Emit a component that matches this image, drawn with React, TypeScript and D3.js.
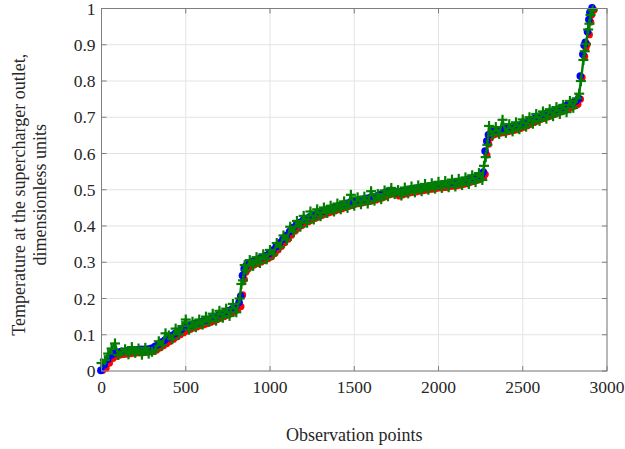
import * as d3 from 'd3';

// observation index of each sample
const obs = [
  0, 20, 40, 60, 80, 100, 120, 140, 160, 180,
  200, 220, 240, 260, 280, 300, 320, 340, 360, 380,
  400, 420, 440, 460, 480, 500, 520, 540, 560, 580,
  600, 620, 640, 660, 680, 700, 720, 740, 760, 780,
  800, 820, 830, 840, 850, 860, 880, 900, 920, 940,
  960, 980, 1000, 1020, 1040, 1060, 1080, 1100, 1120, 1140,
  1160, 1180, 1200, 1220, 1240, 1260, 1280, 1300, 1320, 1340,
  1360, 1380, 1400, 1420, 1440, 1460, 1480, 1500, 1520, 1540,
  1560, 1580, 1600, 1620, 1640, 1660, 1680, 1700, 1720, 1740,
  1760, 1780, 1800, 1820, 1840, 1860, 1880, 1900, 1920, 1940,
  1960, 1980, 2000, 2020, 2040, 2060, 2080, 2100, 2120, 2140,
  2160, 2180, 2200, 2220, 2240, 2260, 2270, 2280, 2290, 2300,
  2320, 2340, 2360, 2380, 2400, 2420, 2440, 2460, 2480, 2500,
  2520, 2540, 2560, 2580, 2600, 2620, 2640, 2660, 2680, 2700,
  2720, 2740, 2760, 2780, 2800, 2820, 2835, 2845, 2860, 2868,
  2875, 2888, 2896, 2902, 2915,
];

// blue circles
const actual = [
  0, 0.015, 0.030, 0.042, 0.048, 0.050, 0.052, 0.053, 0.054, 0.055,
  0.056, 0.057, 0.058, 0.058, 0.059, 0.061, 0.066, 0.072, 0.078, 0.084,
  0.090, 0.096, 0.102, 0.108, 0.114, 0.119, 0.123, 0.126, 0.129, 0.132,
  0.135, 0.138, 0.141, 0.145, 0.149, 0.153, 0.157, 0.161, 0.165, 0.170,
  0.176, 0.188, 0.205, 0.262, 0.280, 0.288, 0.295, 0.300, 0.304, 0.308,
  0.312, 0.317, 0.323, 0.332, 0.342, 0.352, 0.362, 0.372, 0.383, 0.394,
  0.402, 0.408, 0.414, 0.419, 0.424, 0.428, 0.432, 0.436, 0.440, 0.443,
  0.446, 0.449, 0.452, 0.455, 0.458, 0.461, 0.464, 0.467, 0.469, 0.471,
  0.473, 0.475, 0.477, 0.479, 0.482, 0.485, 0.489, 0.493, 0.496, 0.494,
  0.490, 0.493, 0.496, 0.498, 0.500, 0.501, 0.503, 0.505, 0.506, 0.508,
  0.509, 0.511, 0.512, 0.513, 0.514, 0.516, 0.517, 0.518, 0.520, 0.522,
  0.524, 0.527, 0.530, 0.533, 0.536, 0.541, 0.547, 0.605, 0.633, 0.650,
  0.658, 0.661, 0.663, 0.665, 0.667, 0.669, 0.671, 0.673, 0.676, 0.680,
  0.684, 0.688, 0.693, 0.697, 0.701, 0.704, 0.708, 0.711, 0.715, 0.719,
  0.722, 0.726, 0.730, 0.734, 0.738, 0.743, 0.750, 0.812, 0.872, 0.897,
  0.905, 0.934, 0.968, 0.988, 1.000,
];

// red circles
const model1 = [
  0.004, 0.010, 0.024, 0.037, 0.043, 0.046, 0.048, 0.049, 0.050, 0.051,
  0.052, 0.052, 0.053, 0.054, 0.055, 0.056, 0.060, 0.066, 0.072, 0.078,
  0.084, 0.090, 0.096, 0.102, 0.108, 0.113, 0.117, 0.121, 0.124, 0.127,
  0.130, 0.133, 0.136, 0.140, 0.144, 0.148, 0.152, 0.156, 0.160, 0.165,
  0.171, 0.180, 0.212, 0.255, 0.275, 0.283, 0.290, 0.295, 0.299, 0.303,
  0.307, 0.312, 0.317, 0.326, 0.336, 0.346, 0.356, 0.366, 0.377, 0.388,
  0.397, 0.403, 0.409, 0.414, 0.419, 0.423, 0.427, 0.431, 0.435, 0.438,
  0.441, 0.444, 0.447, 0.450, 0.453, 0.456, 0.459, 0.462, 0.464, 0.466,
  0.468, 0.470, 0.472, 0.474, 0.477, 0.480, 0.484, 0.488, 0.491, 0.489,
  0.485, 0.488, 0.491, 0.493, 0.495, 0.496, 0.498, 0.500, 0.501, 0.503,
  0.504, 0.506, 0.507, 0.508, 0.509, 0.511, 0.512, 0.513, 0.515, 0.517,
  0.519, 0.522, 0.525, 0.528, 0.531, 0.536, 0.545, 0.598, 0.628, 0.645,
  0.653, 0.656, 0.658, 0.660, 0.662, 0.664, 0.666, 0.668, 0.671, 0.675,
  0.679, 0.683, 0.688, 0.692, 0.696, 0.699, 0.703, 0.706, 0.710, 0.714,
  0.717, 0.721, 0.725, 0.729, 0.733, 0.738, 0.752, 0.812, 0.870, 0.893,
  0.903, 0.930, 0.965, 0.985, 0.998,
];

// green line with + markers
const model2 = [
  0.022, 0.030, 0.048, 0.062, 0.076, 0.044, 0.052, 0.060, 0.046, 0.066,
  0.050, 0.062, 0.045, 0.064, 0.048, 0.053, 0.058, 0.082, 0.071, 0.104,
  0.098, 0.088, 0.117, 0.101, 0.124, 0.142, 0.114, 0.136, 0.121, 0.142,
  0.128, 0.150, 0.136, 0.158, 0.139, 0.166, 0.147, 0.172, 0.152, 0.185,
  0.162, 0.200, 0.240, 0.250, 0.292, 0.278, 0.306, 0.290, 0.314, 0.298,
  0.322, 0.308, 0.334, 0.322, 0.353, 0.343, 0.374, 0.362, 0.398, 0.384,
  0.414, 0.398, 0.428, 0.409, 0.440, 0.418, 0.446, 0.427, 0.451, 0.436,
  0.456, 0.440, 0.462, 0.446, 0.468, 0.450, 0.486, 0.456, 0.479, 0.460,
  0.481, 0.462, 0.496, 0.470, 0.488, 0.474, 0.498, 0.482, 0.505, 0.488,
  0.499, 0.484, 0.506, 0.490, 0.509, 0.493, 0.512, 0.496, 0.516, 0.500,
  0.518, 0.503, 0.522, 0.505, 0.524, 0.507, 0.528, 0.509, 0.530, 0.513,
  0.534, 0.516, 0.540, 0.521, 0.546, 0.527, 0.566, 0.590, 0.624, 0.676,
  0.650, 0.673, 0.654, 0.693, 0.657, 0.681, 0.661, 0.686, 0.667, 0.694,
  0.674, 0.700, 0.682, 0.709, 0.690, 0.716, 0.696, 0.722, 0.703, 0.728,
  0.709, 0.734, 0.714, 0.745, 0.726, 0.752, 0.765, 0.800, 0.858, 0.882,
  0.902, 0.942, 0.958, 0.982, 0.995,
];

const xTicks = [0, 500, 1000, 1500, 2000, 2500, 3000];
const yTicks = [0, 0.1, 0.2, 0.3, 0.4, 0.5, 0.6, 0.7, 0.8, 0.9, 1];

const W = 625;
const H = 449;
const M = { left: 101.5, right: 18, top: 8.5, bottom: 78 };
const FONT = '"Liberation Serif", "Times New Roman", serif';

export default function App() {
  const x = d3.scaleLinear().domain([0, 3000]).range([M.left, W - M.right]);
  const y = d3.scaleLinear().domain([0, 1]).range([H - M.bottom, M.top]);
  const x0 = x.range()[0], x1 = x.range()[1];
  const y0 = y.range()[0], y1 = y.range()[1];

  const line = d3.line<number>().x((d, i) => x(obs[i])).y((d) => y(d));
  const tl = 5;
  const axisColor = '#7f7f7f';

  return (
    <svg width={W} height={H} style={{ position: 'absolute', left: 0, top: 0, background: '#fff' }}>
      {/* grid */}
      {xTicks.map((t) => (
        <line key={'gx' + t} x1={x(t)} x2={x(t)} y1={y0} y2={y1} stroke="#e3e3e3" strokeWidth={1} />
      ))}
      {yTicks.map((t) => (
        <line key={'gy' + t} x1={x0} x2={x1} y1={y(t)} y2={y(t)} stroke="#e3e3e3" strokeWidth={1} />
      ))}

      {/* series: red under blue, green on top */}
      <g>
        {model1.map((v, i) => (
          <circle key={'r' + i} cx={x(obs[i]) + 1.2} cy={y(v) + 0.8} r={3.6} fill="#ff0000" />
        ))}
      </g>
      <g>
        {actual.map((v, i) => (
          <circle key={'b' + i} cx={x(obs[i]) - 0.6} cy={y(v) - 0.6} r={3.8} fill="#0000ff" />
        ))}
      </g>
      <path d={line(model2) || ''} fill="none" stroke="#007f00" strokeWidth={2.4} />
      <g stroke="#007f00" strokeWidth={2.2}>
        {model2.map((v, i) => {
          const cx = x(obs[i]), cy = y(v);
          return (
            <g key={'g' + i}>
              <line x1={cx - 5} x2={cx + 5} y1={cy} y2={cy} />
              <line x1={cx} x2={cx} y1={cy - 5} y2={cy + 5} />
            </g>
          );
        })}
      </g>

      {/* box and ticks */}
      <rect x={x0} y={y1} width={x1 - x0} height={y0 - y1} fill="none" stroke={axisColor} strokeWidth={1} />
      {xTicks.map((t) => (
        <g key={'tx' + t} stroke={axisColor}>
          <line x1={x(t)} x2={x(t)} y1={y0} y2={y0 - tl} />
          <line x1={x(t)} x2={x(t)} y1={y1} y2={y1 + tl} />
        </g>
      ))}
      {yTicks.map((t) => (
        <g key={'ty' + t} stroke={axisColor}>
          <line x1={x0} x2={x0 + tl} y1={y(t)} y2={y(t)} />
          <line x1={x1} x2={x1 - tl} y1={y(t)} y2={y(t)} />
        </g>
      ))}

      {/* tick labels */}
      {xTicks.map((t) => (
        <text key={'lx' + t} x={x(t)} y={y0 + 22} textAnchor="middle" fontFamily={FONT} fontSize={17.5} fill="#262626">
          {t}
        </text>
      ))}
      {yTicks.map((t) => (
        <text key={'ly' + t} x={x0 - 6} y={y(t)} dy="0.35em" textAnchor="end" fontFamily={FONT} fontSize={17.5} fill="#262626">
          {t}
        </text>
      ))}

      {/* axis labels */}
      <text x={(x0 + x1) / 2} y={441} textAnchor="middle" fontFamily={FONT} fontSize={18} fill="#262626">
        Observation points
      </text>
      <g transform={`translate(0, ${(y0 + y1) / 2 + 5}) rotate(-90)`} fontFamily={FONT} fontSize={18} fill="#262626" textAnchor="middle">
        <text x={0} y={25}>Temperature at the supercharger outlet,</text>
        <text x={0} y={46}>dimensionless units</text>
      </g>
    </svg>
  );
}
